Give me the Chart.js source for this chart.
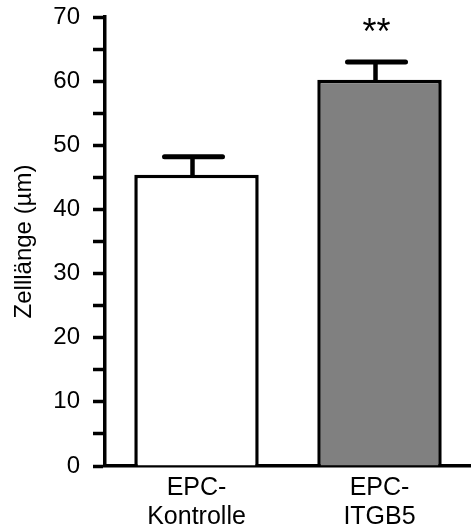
<!DOCTYPE html>
<html>
<head>
<meta charset="utf-8">
<style>
    html, body { margin: 0; padding: 0; background: #fff; }
    .chart-container { position: relative; width: 471px; height: 531px; }
</style>
</head>
<body>
<div class="chart-container">
    <canvas id="myChart"></canvas>
</div>

<script src="https://cdn.jsdelivr.net/npm/chart.js"></script>

<script>

    // Data
    const categories = [['EPC-', 'Kontrolle'], ['EPC-', 'ITGB5']];
    const meanValues = [45.4, 60.2];
    const errorValues = [2.8, 2.8];
    const significance = ['', '**'];
    const barColors = ['#ffffff', '#808080'];
    const yTicks = [0, 10, 20, 30, 40, 50, 60, 70];

    const FONT = "'Liberation Sans', Arial, sans-serif";

    // error bars + significance stars, drawn through the y scale
    const errorBarPlugin = {
        id: 'errorBars',
        afterDatasetsDraw(chart) {
            const ctx = chart.ctx;
            const meta = chart.getDatasetMeta(0);
            const yScale = chart.scales.y;
            meta.data.forEach((bar, i) => {
                const x = bar.x - 4;
                const yTop = yScale.getPixelForValue(meanValues[i] + errorValues[i]);
                const yBar = yScale.getPixelForValue(meanValues[i]);
                ctx.save();
                ctx.strokeStyle = '#000';
                ctx.lineWidth = 4.5;
                ctx.beginPath();
                ctx.moveTo(x, yBar + 1);
                ctx.lineTo(x, yTop);
                ctx.stroke();
                ctx.lineWidth = 5;
                ctx.lineCap = 'round';
                ctx.beginPath();
                ctx.moveTo(x - 28, yTop);
                ctx.lineTo(x + 30, yTop);
                ctx.stroke();
                if (significance[i]) {
                    ctx.fillStyle = '#000';
                    ctx.font = '36px ' + FONT;
                    ctx.textAlign = 'center';
                    ctx.textBaseline = 'alphabetic';
                    ctx.fillText(significance[i], x + 1, yTop - 18);
                }
                ctx.restore();
            });
        }
    };

    const ctx = document.getElementById('myChart').getContext('2d');

    new Chart(ctx, {
        type: 'bar',
        data: {
            labels: categories,
            datasets: [{
                data: meanValues,
                backgroundColor: barColors,
                borderColor: '#000',
                borderWidth: 3.5,
                barPercentage: 0.68,
                categoryPercentage: 1
            }]
        },
        options: {
            responsive: true,
            maintainAspectRatio: false,
            animation: false,
            layout: { padding: { top: 17, right: 0, left: 0, bottom: 0 } },
            plugins: {
                legend: { display: false },
                tooltip: { enabled: false }
            },
            scales: {
                x: {
                    grid: { display: false },
                    border: { color: '#000', width: 3.5 },
                    ticks: {
                        color: '#000',
                        padding: 0,
                        font: { family: FONT, size: 25, lineHeight: 1.15 }
                    },
                    afterFit: scale => {
                        scale.height = 65;
                        scale.paddingLeft = 0;
                        scale.paddingRight = 0;
                    }
                },
                y: {
                    min: 0,
                    max: 70,
                    afterBuildTicks: scale => {
                        const list = [];
                        for (let v = 0; v <= 70; v += 5) list.push({ value: v });
                        scale.ticks = list;
                    },
                    grid: {
                        drawOnChartArea: false,
                        tickLength: 12,
                        tickWidth: 3.5,
                        tickColor: '#000'
                    },
                    border: { color: '#000', width: 3.5 },
                    ticks: {
                        color: '#000',
                        padding: 13,
                        font: { family: FONT, size: 24 },
                        callback: value => yTicks.includes(value) ? String(value) : ''
                    },
                    title: {
                        display: true,
                        text: 'Zelllänge (µm)',
                        color: '#000',
                        font: { family: FONT, size: 24 },
                        padding: { top: 10, bottom: 0 }
                    },
                    afterFit: scale => {
                        scale.width = 105;
                        scale.paddingTop = 0;
                        scale.paddingBottom = 0;
                    }
                }
            }
        },
        plugins: [errorBarPlugin]
    });

</script>
</body>
</html>
